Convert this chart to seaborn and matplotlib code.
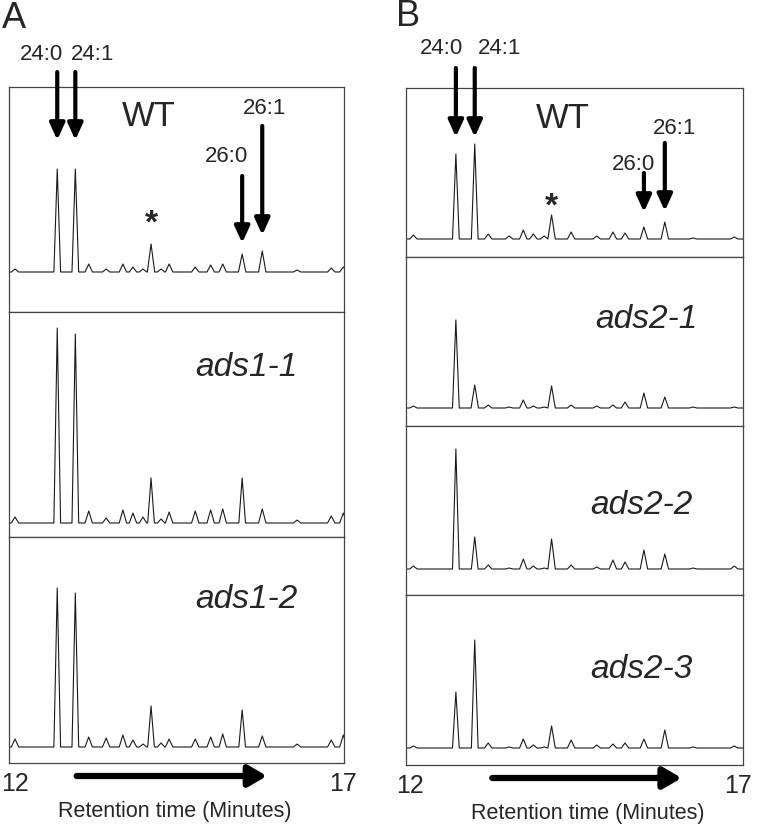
import numpy as np
import pandas as pd
import matplotlib
matplotlib.use("Agg")
import matplotlib.pyplot as plt
import seaborn as sns

# retention times (min) of the peaks seen in panel A, and peak heights per trace
times_a = [12.09, 12.72, 12.99, 13.19, 13.45, 13.70, 13.85, 14.00, 14.12, 14.27,
           14.39, 14.78, 15.01, 15.19, 15.48, 15.78, 16.30, 16.81, 16.99]
wt_a = [3, 103, 103, 8, 3, 8, 5, 3, 28, 3, 8, 5, 7, 8, 18, 21, 2, 4, 5]
ads1_1 = [6, 195, 189, 12, 5, 13, 10, 6, 45, 4, 11, 12, 13, 14, 45, 14, 3, 7, 10]
ads1_2 = [8, 159, 154, 10, 9, 12, 7, 3, 41, 4, 8, 8, 10, 13, 37, 11, 3, 7, 12]
baseline_a = [40, 14, 16]
names_a = ["WT", "ads1-1", "ads1-2"]

# panel B
times_b = [12.11, 12.74, 13.02, 13.22, 13.53, 13.74, 13.89, 14.05, 14.16, 14.45,
           14.83, 15.07, 15.25, 15.53, 15.84, 16.26, 16.87]
wt_b = [4, 85, 95, 5, 3, 9, 5, 3, 24, 7, 3, 7, 6, 12, 17, 1, 2]
ads2_1 = [2, 88, 23, 3, 1, 8, 2, 1, 22, 3, 2, 3, 6, 15, 11, 1, 1]
ads2_2 = [3, 120, 32, 4, 1, 10, 3, 1, 30, 4, 2, 9, 7, 19, 15, 1, 3]
ads2_3 = [2, 56, 108, 5, 1, 9, 3, 1, 22, 8, 3, 4, 5, 9, 18, 1, 2]
baseline_b = [18, 18, 26, 17]
names_b = ["WT", "ads2-1", "ads2-2", "ads2-3"]

W, H = 759, 824

sns.set_style("white")
plt.rcParams["font.family"] = ["Liberation Sans", "DejaVu Sans"]


def trace(times, heights, base):
    xs, ys = [11.9], [base]
    for t, h in zip(times, heights):
        w = 0.05 if h > 30 else 0.055
        xs += [t - w, t, t + w]
        ys += [base, base + h, base]
    xs.append(17.1)
    ys.append(base)
    return pd.DataFrame({"time": xs, "signal": ys})


def down_arrow(ax, x, y_tail, y_tip, lw=3, scale=18):
    ax.annotate("", xy=(x, y_tip), xytext=(x, y_tail),
                arrowprops=dict(arrowstyle="-|>,head_length=0.55,head_width=0.25",
                                lw=lw, color="black", shrinkA=0, shrinkB=0,
                                mutation_scale=scale),
                annotation_clip=False, zorder=5)


def make_panel(fig, left_px, right_px, top_px, heights_px, times, traces, bases, names):
    axes = []
    top = top_px
    for i, (hp, tr, b, nm) in enumerate(zip(heights_px, traces, bases, names)):
        ax = fig.add_axes([left_px / W, 1 - (top + hp) / H,
                           (right_px - left_px) / W, hp / H])
        df = trace(times, tr, b)
        sns.lineplot(data=df, x="time", y="signal", sort=False, estimator=None,
                     color="#1a1a1a", lw=0.8, ax=ax)
        ax.set_xlim(12, 17)
        ax.set_ylim(0, hp)
        ax.set_xticks([])
        ax.set_yticks([])
        ax.set_xlabel("")
        ax.set_ylabel("")
        for s in ax.spines.values():
            s.set_color("#444444")
            s.set_linewidth(0.9)
        axes.append(ax)
        top += hp
    return axes


fig = plt.figure(figsize=(W / 100, H / 100), dpi=100)

axA = make_panel(fig, 9, 344, 87, [225, 225, 226], times_a,
                 [wt_a, ads1_1, ads1_2], baseline_a, names_a)
axB = make_panel(fig, 406, 743, 88, [169, 169, 169, 170], times_b,
                 [wt_b, ads2_1, ads2_2, ads2_3], baseline_b, names_b)

# panel A, WT annotations
a = axA[0]
a.text(14.09, 195, "WT", fontsize=25, ha="center", va="center")
a.text(12.48, 258, "24:0", fontsize=16, ha="center", va="center")
a.text(13.25, 258, "24:1", fontsize=16, ha="center", va="center")
a.text(15.25, 155, "26:0", fontsize=16, ha="center", va="center")
a.text(15.82, 204, "26:1", fontsize=16, ha="center", va="center")
a.text(14.12, 88, "*", fontsize=24, fontweight="bold", ha="center", va="center")
down_arrow(a, times_a[1], 240, 172)
down_arrow(a, times_a[2], 240, 172)
down_arrow(a, times_a[14], 136, 69)
down_arrow(a, times_a[15], 186, 77)

# panel B, WT annotations
b = axB[0]
b.text(14.33, 139, "WT", fontsize=25, ha="center", va="center")
b.text(12.52, 209, "24:0", fontsize=16, ha="center", va="center")
b.text(13.39, 209, "24:1", fontsize=16, ha="center", va="center")
b.text(15.38, 93, "26:0", fontsize=16, ha="center", va="center")
b.text(15.98, 129, "26:1", fontsize=16, ha="center", va="center")
b.text(14.16, 50, "*", fontsize=24, fontweight="bold", ha="center", va="center")
down_arrow(b, times_b[1], 189, 120)
down_arrow(b, times_b[2], 189, 120)
down_arrow(b, times_b[13], 84, 45)
down_arrow(b, times_b[14], 114, 46)

# mutant labels
axA[1].text(15.54, 169, names_a[1], fontsize=24, style="italic", ha="center", va="center")
axA[2].text(15.55, 164, names_a[2], fontsize=24, style="italic", ha="center", va="center")
axB[1].text(15.56, 106, names_b[1], fontsize=24, style="italic", ha="center", va="center")
axB[2].text(15.50, 90, names_b[2], fontsize=24, style="italic", ha="center", va="center")
axB[3].text(15.50, 95, names_b[3], fontsize=24, style="italic", ha="center", va="center")

# bottom axes: start/end labels, retention time arrow
for ax, x0, x1, x12, x17, lab_x in [(axA[-1], 13.01, 15.85, 12.09, 16.99, 14.47),
                                     (axB[-1], 13.28, 16.09, 12.06, 16.93, 14.70)]:
    ax.text(x12, -21, "12", fontsize=18, ha="center", va="center")
    ax.text(x17, -21, "17", fontsize=18, ha="center", va="center")
    ax.text(lab_x, -48, "Retention time (Minutes)", fontsize=15.5, ha="center", va="center")
    ax.annotate("", xy=(x1, -13), xytext=(x0, -13),
                arrowprops=dict(arrowstyle="-|>,head_length=0.6,head_width=0.35",
                                lw=4.5, color="black", shrinkA=0, shrinkB=0,
                                mutation_scale=18),
                annotation_clip=False)

fig.text(14 / W, 1 - 18 / H, "A", fontsize=26, ha="center", va="center")
fig.text(408 / W, 1 - 17 / H, "B", fontsize=26, ha="center", va="center")

fig.savefig("out.png", dpi=100)
